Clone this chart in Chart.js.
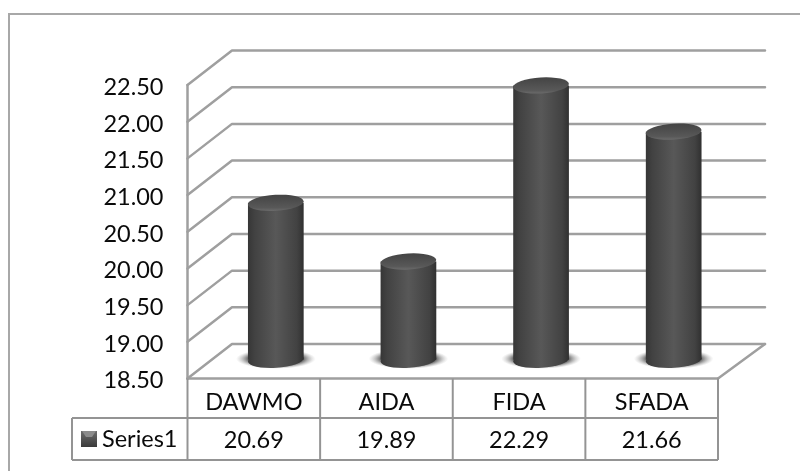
<!DOCTYPE html>
<html>
<head>
<meta charset="utf-8">
<script src="https://cdn.jsdelivr.net/npm/chart.js@4/dist/chart.umd.min.js"></script>
<style>
html, body { margin: 0; padding: 0; background: #fff; }
#wrap { width: 800px; height: 471px; position: relative; }
</style>
</head>
<body>
<div id="wrap"><canvas id="chart" width="800" height="471"></canvas></div>
<script>
const categories = ['DAWMO', 'AIDA', 'FIDA', 'SFADA'];
const seriesName = 'Series1';
const values = [20.69, 19.89, 22.29, 21.66];
const yMin = 18.5;
const yMax = 22.5;
const yStep = 0.5;
const barBase = 18.55;

const lineColor = '#9f9f9f';
const tableColor = '#949494';
const textColor = '#0a0a0a';
const fontFamily = 'Lato, "Open Sans", sans-serif';
const fontSize = 23.5;

// depth of the floor and walls, and how far the cylinders sit inside it
const depthX = 44.5;
const depthY = -34.5;
const barShiftX = 22;
const barShiftY = -15;
const capRadiusY = 8;
const capTilt = -0.06;

function drawLine(ctx, x1, y1, x2, y2, color, width) {
    ctx.beginPath();
    ctx.moveTo(x1, y1);
    ctx.lineTo(x2, y2);
    ctx.strokeStyle = color || lineColor;
    ctx.lineWidth = width || 2.5;
    ctx.stroke();
}

function bodyGradient(ctx, cx, rx) {
    const g = ctx.createLinearGradient(cx - rx, 0, cx + rx, 0);
    g.addColorStop(0, '#363636');
    g.addColorStop(0.12, '#424242');
    g.addColorStop(0.5, '#585858');
    g.addColorStop(0.88, '#424242');
    g.addColorStop(1, '#303030');
    return g;
}

// gridlines on the back wall, side wall and floor
const wallsPlugin = {
    id: 'walls',
    beforeDatasetsDraw(chart) {
        const ctx = chart.ctx;
        const area = chart.chartArea;
        const y = chart.scales.y;
        ctx.save();
        ctx.lineCap = 'round';
        ctx.lineJoin = 'round';
        y.ticks.forEach(function (t) {
            const py = y.getPixelForValue(t.value);
            ctx.beginPath();
            ctx.moveTo(area.left, py);
            ctx.lineTo(area.left + depthX, py + depthY);
            ctx.lineTo(area.right + depthX + 2.5, py + depthY);
            ctx.strokeStyle = lineColor;
            ctx.lineWidth = 2.5;
            ctx.stroke();
        });
        drawLine(ctx, area.left, area.top, area.left, area.bottom);
        drawLine(ctx, area.left, area.bottom, area.right, area.bottom);
        drawLine(ctx, area.right, area.bottom, area.right + depthX + 2.5, area.bottom + depthY);
        ctx.restore();

        // soft floor shadow under each cylinder
        const bars = chart.getDatasetMeta(0).data;
        bars.forEach(function (b) {
            const rx = b.width / 2 + 12;
            ctx.save();
            ctx.translate(b.x + barShiftX, b.base + barShiftY - 1);
            ctx.scale(1, 10 / rx);
            const g = ctx.createRadialGradient(0, 0, rx * 0.7, 0, 0, rx);
            g.addColorStop(0, 'rgba(110,110,110,1)');
            g.addColorStop(1, 'rgba(190,190,190,0)');
            ctx.fillStyle = g;
            ctx.beginPath();
            ctx.arc(0, 0, rx, 0, Math.PI * 2);
            ctx.fill();
            ctx.restore();
        });

        ctx.save();
        ctx.translate(barShiftX, barShiftY);
    },
    afterDatasetsDraw(chart) {
        const ctx = chart.ctx;
        const bars = chart.getDatasetMeta(0).data;
        bars.forEach(function (b) {
            const rx = b.width / 2;
            // rounded bottom
            ctx.beginPath();
            ctx.ellipse(b.x, b.base, rx, capRadiusY, capTilt, 0, Math.PI * 2);
            ctx.fillStyle = bodyGradient(ctx, b.x, rx);
            ctx.fill();
            // top cap, lighter towards the front rim
            const g = ctx.createLinearGradient(0, b.y - capRadiusY, 0, b.y + capRadiusY);
            g.addColorStop(0, '#444444');
            g.addColorStop(0.8, '#585858');
            g.addColorStop(1, '#6a6a6a');
            ctx.beginPath();
            ctx.ellipse(b.x, b.y, rx, capRadiusY, capTilt, 0, Math.PI * 2);
            ctx.fillStyle = g;
            ctx.fill();
        });
        ctx.restore();
    }
};

// data table under the plot
const tablePlugin = {
    id: 'dataTable',
    afterDraw(chart) {
        const ctx = chart.ctx;
        const area = chart.chartArea;
        const colW = area.width / categories.length;
        const rowMid = 418;
        const rowBot = 460;
        const legendLeft = 72;

        ctx.save();
        // outer frame of the chart
        ctx.strokeStyle = '#a8a8a8';
        ctx.lineWidth = 2;
        ctx.strokeRect(9, 14, 812, 480);

        for (let i = 0; i <= categories.length; i++) {
            const x = area.left + colW * i;
            drawLine(ctx, x, area.bottom, x, rowBot, tableColor, 2);
        }
        drawLine(ctx, legendLeft, rowMid, area.right, rowMid, tableColor, 2);
        drawLine(ctx, legendLeft, rowBot, area.right, rowBot, tableColor, 2);
        drawLine(ctx, legendLeft, rowMid, legendLeft, rowBot, tableColor, 2);

        // legend swatch
        const g = ctx.createLinearGradient(0, 431, 0, 447);
        g.addColorStop(0, '#6e6e6e');
        g.addColorStop(1, '#3a3a3a');
        ctx.fillStyle = g;
        ctx.fillRect(81, 431, 16, 16);
        ctx.fillStyle = '#8c8c8c';
        ctx.beginPath();
        ctx.moveTo(82, 431);
        ctx.lineTo(96, 431);
        ctx.lineTo(92, 437);
        ctx.lineTo(86, 437);
        ctx.closePath();
        ctx.fill();

        ctx.fillStyle = textColor;
        ctx.font = fontSize + 'px ' + fontFamily;
        ctx.textBaseline = 'middle';
        ctx.textAlign = 'left';
        ctx.fillText(seriesName, 102, 439);
        ctx.textAlign = 'center';
        values.forEach(function (v, i) {
            ctx.fillText(v.toFixed(2), area.left + colW * (i + 0.5), 440);
        });
        ctx.restore();
    }
};

new Chart(document.getElementById('chart'), {
    type: 'bar',
    data: {
        labels: categories,
        datasets: [{
            label: seriesName,
            data: values,
            base: barBase,
            barPercentage: 0.84,
            categoryPercentage: 0.5,
            borderWidth: 0,
            clip: false,
            backgroundColor: function (c) {
                if (!c.chart.chartArea) return '#444444';
                const w = c.chart.chartArea.width / categories.length * 0.42;
                const px = c.chart.scales.x.getPixelForValue(c.dataIndex);
                return bodyGradient(c.chart.ctx, px, w / 2);
            }
        }]
    },
    options: {
        responsive: false,
        animation: false,
        layout: { padding: { left: 0, top: 85, right: 82, bottom: 53 } },
        plugins: { legend: { display: false }, tooltip: { enabled: false } },
        scales: {
            x: {
                grid: { display: false },
                border: { display: false },
                afterFit(s) { s.height = 39.5; },
                ticks: {
                    color: textColor,
                    font: { family: fontFamily, size: fontSize },
                    padding: 2,
                    maxRotation: 0
                }
            },
            y: {
                min: yMin,
                max: yMax,
                position: 'left',
                grid: { display: false },
                border: { display: false },
                afterFit(s) { s.width = 187.5; },
                ticks: {
                    stepSize: yStep,
                    color: textColor,
                    // empty first line plus a small lineHeight nudges the digits down onto the gridline
                    font: { family: fontFamily, size: fontSize, lineHeight: 0.2 },
                    padding: 16,
                    callback: function (v) { return ['', v.toFixed(2)]; }
                }
            }
        }
    },
    plugins: [wallsPlugin, tablePlugin]
});
</script>
</body>
</html>
